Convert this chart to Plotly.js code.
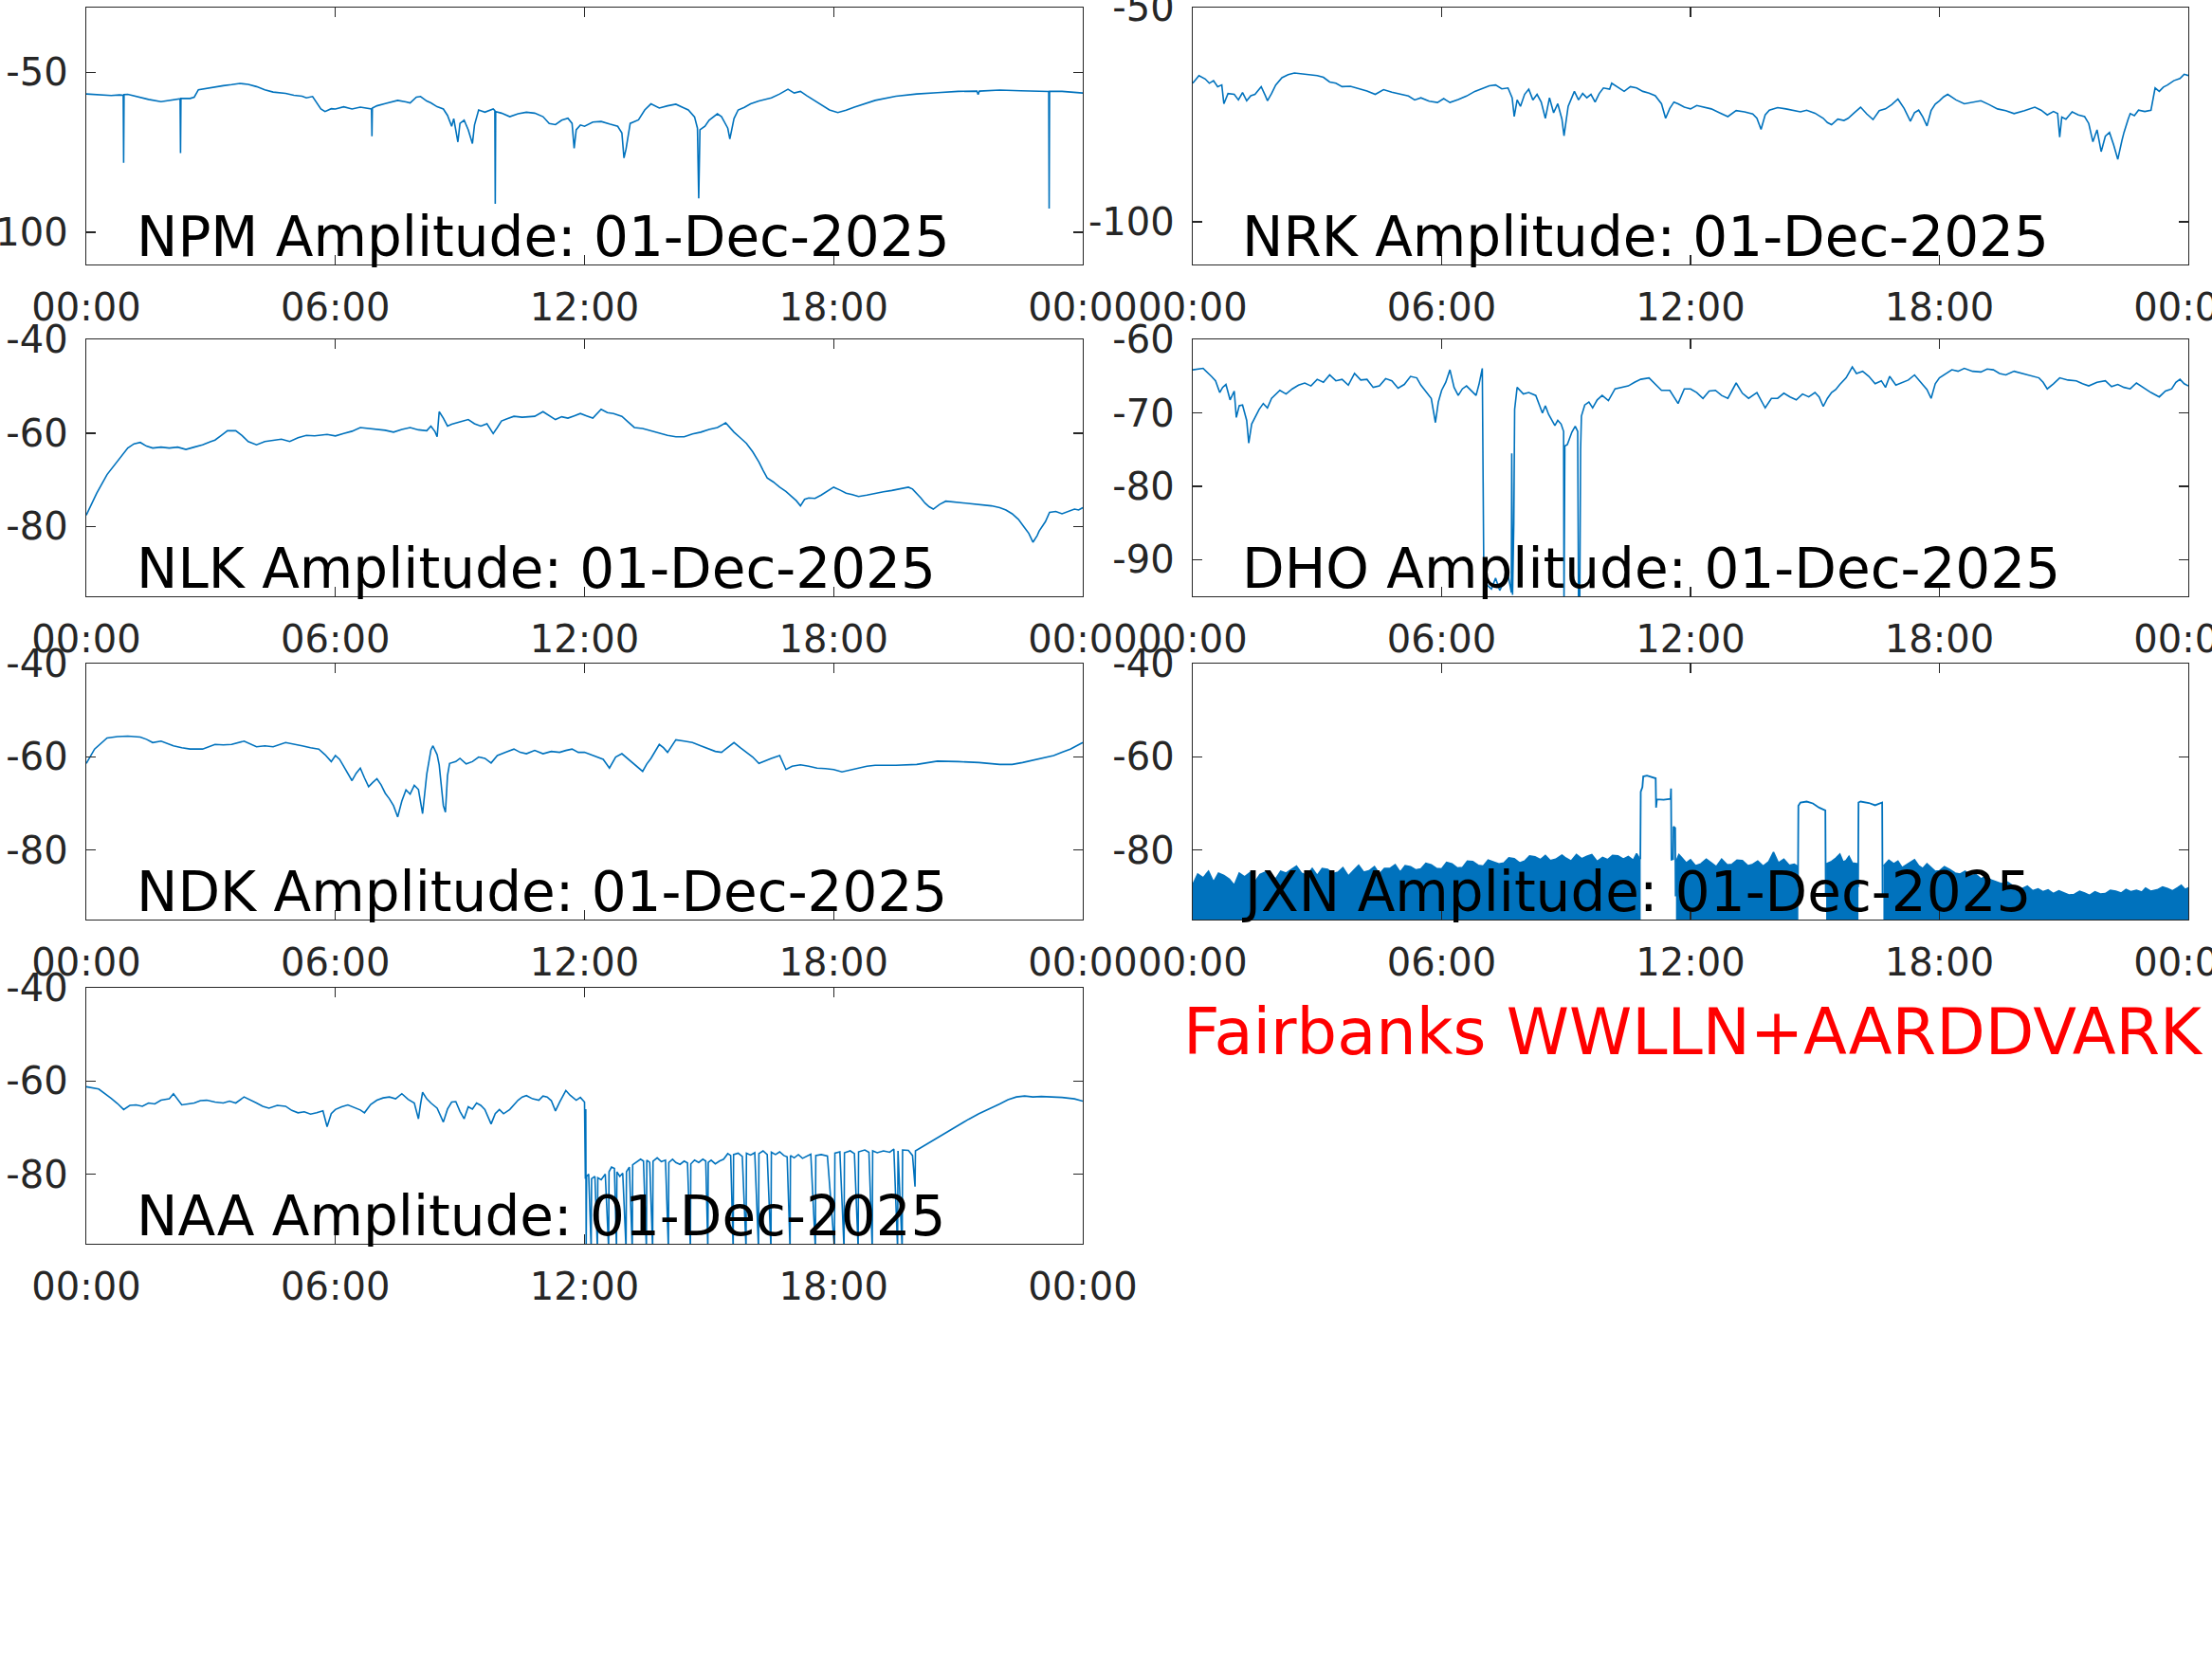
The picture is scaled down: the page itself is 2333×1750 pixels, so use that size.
<!DOCTYPE html>
<html>
<head>
<meta charset="utf-8">
<script src="https://cdn.plot.ly/plotly-3.0.1.min.js"></script>
<style>html,body{margin:0;padding:0;background:#fff;}#chart{width:2333px;height:1750px;}</style>
</head>
<body>
<div id="chart"></div>
<script>
// ---------- DATA (hours since 00:00 UT, amplitude dB) ----------
const tickHours = [0, 6, 12, 18, 24];
const tickText = ['00:00', '06:00', '12:00', '18:00', '00:00'];
const dateLabel = '01-Dec-2025';
const footerText = 'Fairbanks WWLLN+AARDDVARK';

const npm = [[0,-56.8],[0.3,-57.0],[0.6,-57.3],[0.8,-57.1],[0.89,-57.2],[0.9,-78.3],[0.91,-57.0],[1.0,-56.9],[1.2,-57.6],[1.5,-58.5],[1.8,-59.2],[2.0,-58.8],[2.2,-58.3],[2.26,-58.3],[2.27,-75.3],[2.28,-58.2],[2.5,-58.2],[2.6,-57.8],[2.7,-55.5],[3.0,-54.8],[3.3,-54.2],[3.5,-53.9],[3.7,-53.5],[3.9,-53.8],[4.1,-54.5],[4.3,-55.5],[4.5,-56.2],[4.8,-56.6],[5.0,-57.2],[5.2,-57.5],[5.3,-58.0],[5.45,-57.6],[5.55,-59.5],[5.65,-61.5],[5.75,-62.3],[5.9,-61.4],[6.0,-61.5],[6.2,-60.8],[6.4,-61.5],[6.6,-60.9],[6.87,-61.5],[6.88,-70.0],[6.89,-61.2],[7.0,-60.5],[7.2,-59.8],[7.5,-58.8],[7.7,-59.3],[7.8,-59.6],[7.95,-57.8],[8.05,-57.6],[8.2,-59.0],[8.3,-59.6],[8.45,-60.8],[8.6,-61.5],[8.7,-63.5],[8.8,-66.9],[8.85,-64.5],[8.95,-71.8],[9.0,-66.0],[9.1,-65.0],[9.2,-68.0],[9.3,-72.3],[9.35,-66.5],[9.45,-61.8],[9.6,-62.5],[9.8,-61.5],[9.84,-62.0],[9.85,-91.1],[9.86,-62.3],[10.0,-62.8],[10.2,-63.9],[10.4,-63.0],[10.6,-62.5],[10.8,-62.8],[11.0,-63.9],[11.15,-66.0],[11.3,-66.4],[11.45,-65.0],[11.6,-64.4],[11.7,-66.0],[11.75,-73.8],[11.8,-68.0],[11.9,-66.5],[12.0,-66.9],[12.2,-65.6],[12.4,-65.4],[12.6,-66.2],[12.8,-66.9],[12.9,-69.0],[12.95,-76.8],[13.0,-74.0],[13.1,-66.0],[13.3,-64.9],[13.45,-61.8],[13.6,-59.9],[13.8,-61.2],[14.0,-60.5],[14.2,-60.0],[14.4,-61.2],[14.5,-61.8],[14.65,-64.0],[14.72,-67.5],[14.75,-89.4],[14.78,-68.0],[14.9,-66.9],[15.0,-65.0],[15.2,-63.0],[15.3,-63.9],[15.45,-67.5],[15.5,-70.9],[15.6,-64.5],[15.7,-61.8],[15.85,-61.0],[16.0,-59.9],[16.2,-59.0],[16.5,-58.0],[16.7,-56.8],[16.9,-55.3],[17.05,-56.5],[17.2,-56.0],[17.35,-57.3],[17.5,-58.5],[17.7,-60.2],[17.9,-61.8],[18.1,-62.6],[18.3,-61.9],[18.5,-60.9],[18.75,-59.8],[19.0,-58.8],[19.5,-57.5],[20.0,-56.8],[20.5,-56.4],[21.0,-56.0],[21.45,-55.9],[21.48,-57.0],[21.51,-55.9],[22.0,-55.6],[22.5,-55.8],[23.0,-56.0],[23.18,-56.0],[23.19,-92.6],[23.2,-56.0],[23.5,-56.0],[24.0,-56.5]];

const nrk = [[0,-67.6],[0.15,-65.8],[0.3,-66.6],[0.4,-67.6],[0.5,-67.0],[0.6,-68.4],[0.7,-68.0],[0.75,-72.4],[0.85,-70.0],[1.0,-70.2],[1.1,-71.5],[1.2,-69.8],[1.3,-71.7],[1.4,-70.5],[1.5,-70.2],[1.65,-68.4],[1.75,-70.5],[1.8,-71.7],[1.9,-70.0],[2.0,-68.0],[2.15,-66.3],[2.3,-65.6],[2.45,-65.2],[2.6,-65.4],[2.8,-65.7],[3.0,-65.8],[3.15,-66.2],[3.3,-67.3],[3.45,-67.6],[3.6,-68.4],[3.8,-68.3],[4.0,-68.9],[4.2,-69.4],[4.4,-70.2],[4.6,-69.1],[4.8,-69.7],[5.0,-70.2],[5.2,-70.6],[5.35,-71.5],[5.5,-71.0],[5.7,-71.8],[5.9,-72.1],[6.05,-71.2],[6.2,-72.1],[6.4,-71.4],[6.6,-70.6],[6.8,-69.5],[7.0,-68.7],[7.15,-68.2],[7.3,-68.0],[7.45,-68.9],[7.6,-68.7],[7.7,-71.0],[7.75,-75.4],[7.82,-71.5],[7.9,-73.0],[8.0,-70.2],[8.1,-69.0],[8.2,-71.5],[8.3,-70.2],[8.4,-72.0],[8.5,-75.8],[8.6,-71.0],[8.7,-74.5],[8.8,-72.4],[8.9,-76.0],[8.95,-79.9],[9.05,-73.0],[9.2,-69.5],[9.3,-71.5],[9.4,-70.0],[9.5,-71.0],[9.6,-70.2],[9.7,-72.0],[9.8,-70.0],[9.9,-68.7],[10.05,-69.0],[10.1,-67.6],[10.25,-68.5],[10.4,-69.5],[10.55,-68.4],[10.7,-68.7],[10.85,-69.5],[11.0,-69.9],[11.15,-70.5],[11.3,-72.4],[11.4,-75.8],[11.5,-73.5],[11.6,-72.0],[11.7,-72.4],[11.85,-73.2],[12.0,-73.6],[12.15,-72.8],[12.3,-73.2],[12.5,-73.6],[12.7,-74.5],[12.9,-75.4],[13.1,-74.0],[13.3,-74.3],[13.5,-74.8],[13.6,-75.8],[13.7,-78.4],[13.8,-75.0],[13.9,-73.9],[14.1,-73.3],[14.3,-73.6],[14.5,-74.0],[14.65,-74.3],[14.8,-73.9],[15.0,-74.6],[15.2,-75.8],[15.3,-76.8],[15.4,-77.3],[15.55,-76.0],[15.7,-76.3],[15.8,-75.8],[15.95,-74.5],[16.1,-73.2],[16.25,-74.8],[16.4,-76.1],[16.55,-74.0],[16.7,-73.6],[16.85,-72.6],[17.0,-71.3],[17.15,-73.5],[17.3,-76.5],[17.4,-74.5],[17.5,-73.9],[17.6,-75.5],[17.7,-77.6],[17.8,-74.0],[17.9,-72.5],[18.0,-71.7],[18.1,-70.8],[18.2,-70.2],[18.4,-71.5],[18.6,-72.4],[18.8,-72.0],[19.0,-71.7],[19.2,-72.6],[19.4,-73.6],[19.6,-74.0],[19.8,-74.7],[20.05,-74.0],[20.3,-73.2],[20.45,-73.9],[20.6,-75.0],[20.75,-74.2],[20.85,-74.7],[20.9,-80.2],[20.95,-75.5],[21.05,-76.0],[21.2,-74.3],[21.35,-75.0],[21.5,-75.4],[21.6,-77.0],[21.7,-81.3],[21.8,-78.5],[21.9,-83.6],[22.0,-80.0],[22.1,-79.1],[22.2,-82.0],[22.3,-85.4],[22.4,-81.0],[22.45,-79.1],[22.55,-76.0],[22.6,-74.7],[22.7,-75.2],[22.8,-73.9],[22.95,-74.2],[23.1,-73.9],[23.2,-68.7],[23.3,-69.5],[23.4,-68.5],[23.5,-68.0],[23.65,-67.0],[23.8,-66.5],[23.9,-65.5],[24.0,-65.8]];

const nlk = [[0,-77.6],[0.25,-72.9],[0.5,-68.9],[0.8,-65.5],[1.0,-63.2],[1.15,-62.3],[1.3,-62.0],[1.45,-62.8],[1.6,-63.2],[1.8,-63.0],[2.0,-63.2],[2.2,-63.0],[2.4,-63.5],[2.6,-63.0],[2.8,-62.5],[3.0,-61.8],[3.1,-61.5],[3.25,-60.5],[3.4,-59.5],[3.6,-59.5],[3.75,-60.5],[3.9,-61.8],[4.1,-62.5],[4.3,-61.8],[4.5,-61.5],[4.7,-61.3],[4.9,-61.8],[5.1,-61.0],[5.3,-60.5],[5.5,-60.6],[5.8,-60.3],[6.0,-60.6],[6.2,-60.1],[6.4,-59.6],[6.6,-58.8],[6.8,-59.0],[7.0,-59.1],[7.2,-59.4],[7.4,-59.8],[7.6,-59.2],[7.8,-58.8],[8.0,-59.3],[8.2,-59.5],[8.3,-58.5],[8.4,-59.7],[8.45,-60.8],[8.5,-55.4],[8.6,-56.8],[8.7,-58.5],[8.8,-58.1],[9.0,-57.6],[9.2,-57.1],[9.35,-58.0],[9.5,-58.5],[9.65,-58.0],[9.8,-60.1],[9.9,-58.8],[10.0,-57.4],[10.15,-56.9],[10.3,-56.4],[10.5,-56.6],[10.8,-56.4],[11.0,-55.4],[11.15,-56.2],[11.3,-57.1],[11.45,-56.5],[11.6,-56.8],[11.75,-56.3],[11.9,-55.8],[12.05,-56.3],[12.2,-56.8],[12.4,-54.9],[12.55,-55.6],[12.7,-55.8],[12.9,-56.4],[13.05,-57.6],[13.2,-58.8],[13.4,-59.0],[13.6,-59.5],[13.8,-60.0],[14.0,-60.5],[14.2,-60.8],[14.4,-60.8],[14.6,-60.2],[14.8,-59.8],[15.0,-59.2],[15.2,-58.8],[15.4,-57.8],[15.5,-58.8],[15.6,-59.8],[15.75,-61.0],[15.9,-62.2],[16.05,-64.0],[16.2,-66.2],[16.3,-68.0],[16.4,-69.6],[16.55,-70.5],[16.7,-71.6],[16.85,-72.5],[17.0,-73.6],[17.1,-74.5],[17.2,-75.6],[17.3,-74.2],[17.4,-73.9],[17.55,-74.0],[17.7,-73.3],[17.85,-72.5],[18.0,-71.6],[18.15,-72.2],[18.3,-72.9],[18.45,-73.2],[18.6,-73.6],[18.8,-73.3],[19.0,-72.9],[19.2,-72.6],[19.4,-72.3],[19.6,-72.0],[19.8,-71.6],[19.9,-72.0],[20.0,-72.9],[20.1,-73.9],[20.2,-75.0],[20.3,-75.8],[20.4,-76.3],[20.55,-75.3],[20.7,-74.6],[20.9,-74.8],[21.05,-75.0],[21.2,-75.0],[21.4,-75.3],[21.6,-75.5],[21.8,-75.6],[22.0,-76.0],[22.15,-76.5],[22.3,-77.3],[22.45,-78.5],[22.6,-80.3],[22.7,-81.5],[22.8,-83.4],[22.9,-82.0],[22.95,-81.0],[23.1,-79.0],[23.2,-77.0],[23.35,-76.8],[23.5,-77.3],[23.65,-76.8],[23.8,-76.3],[23.9,-76.5],[24.0,-76.0]];

const dho = [[0,-64.1],[0.25,-63.9],[0.45,-65.0],[0.55,-65.6],[0.65,-67.2],[0.72,-66.5],[0.8,-66.1],[0.9,-68.2],[1.0,-67.0],[1.05,-70.6],[1.12,-69.0],[1.2,-68.9],[1.3,-71.0],[1.35,-74.1],[1.42,-71.5],[1.5,-70.6],[1.6,-69.5],[1.7,-68.7],[1.8,-69.3],[1.9,-68.0],[2.1,-66.9],[2.25,-67.4],[2.4,-66.7],[2.55,-66.2],[2.7,-65.9],[2.85,-66.3],[3.0,-65.4],[3.15,-65.8],[3.3,-64.8],[3.45,-65.6],[3.6,-65.4],[3.75,-66.2],[3.9,-64.6],[4.05,-65.5],[4.2,-65.4],[4.35,-66.5],[4.5,-66.3],[4.65,-65.3],[4.8,-65.6],[4.95,-66.6],[5.1,-66.1],[5.25,-65.0],[5.4,-65.2],[5.5,-66.2],[5.6,-66.9],[5.75,-68.0],[5.85,-71.3],[5.92,-68.5],[6.0,-66.9],[6.1,-65.8],[6.2,-64.1],[6.3,-66.5],[6.4,-67.6],[6.5,-66.7],[6.6,-66.3],[6.7,-66.9],[6.83,-67.6],[6.9,-66.1],[6.98,-63.9],[7.02,-94.8],[7.06,-90.0],[7.1,-93.5],[7.2,-94.0],[7.3,-92.5],[7.4,-94.2],[7.5,-93.0],[7.6,-92.0],[7.68,-94.5],[7.69,-75.5],[7.71,-94.8],[7.74,-85.0],[7.76,-69.5],[7.82,-66.5],[7.97,-67.4],[8.1,-67.2],[8.27,-67.6],[8.43,-70.0],[8.5,-69.0],[8.58,-70.2],[8.73,-71.7],[8.8,-71.0],[8.88,-71.5],[8.94,-72.5],[8.95,-96],[8.97,-74.5],[9.03,-74.3],[9.14,-72.6],[9.22,-71.8],[9.28,-72.5],[9.3,-96],[9.33,-96],[9.35,-75.0],[9.37,-70.4],[9.45,-68.9],[9.55,-68.5],[9.64,-69.3],[9.75,-68.2],[9.87,-67.6],[10.02,-68.3],[10.18,-66.7],[10.35,-66.5],[10.5,-66.3],[10.65,-65.8],[10.8,-65.4],[11.0,-65.2],[11.15,-66.0],[11.3,-66.9],[11.5,-66.9],[11.7,-68.7],[11.85,-66.7],[12.0,-66.7],[12.15,-67.2],[12.3,-68.0],[12.45,-67.0],[12.6,-66.9],[12.75,-67.6],[12.9,-68.0],[13.1,-65.9],[13.25,-67.3],[13.4,-68.0],[13.6,-67.2],[13.8,-69.3],[13.95,-68.0],[14.1,-68.0],[14.25,-67.3],[14.4,-67.8],[14.55,-68.2],[14.7,-67.4],[14.85,-67.8],[15.0,-67.2],[15.1,-67.8],[15.2,-69.1],[15.3,-68.0],[15.4,-67.2],[15.5,-66.8],[15.6,-66.1],[15.75,-65.2],[15.9,-63.7],[16.0,-64.6],[16.15,-64.3],[16.3,-65.0],[16.45,-66.0],[16.6,-65.6],[16.7,-66.5],[16.8,-65.0],[16.95,-66.2],[17.1,-65.9],[17.25,-65.5],[17.4,-64.8],[17.5,-65.5],[17.6,-66.1],[17.7,-66.8],[17.8,-68.0],[17.9,-66.0],[18.0,-65.2],[18.15,-64.7],[18.3,-64.1],[18.45,-64.3],[18.6,-63.9],[18.8,-64.3],[19.0,-64.4],[19.15,-64.0],[19.3,-64.1],[19.45,-64.6],[19.6,-64.8],[19.8,-64.3],[20.0,-64.6],[20.2,-64.9],[20.4,-65.2],[20.5,-65.8],[20.6,-66.7],[20.75,-66.0],[20.9,-65.2],[21.1,-65.5],[21.3,-65.6],[21.45,-66.0],[21.6,-66.3],[21.8,-65.8],[22.0,-65.6],[22.15,-66.4],[22.3,-66.1],[22.45,-66.5],[22.6,-66.7],[22.75,-65.9],[22.9,-66.5],[23.1,-67.2],[23.3,-67.8],[23.45,-67.0],[23.6,-66.7],[23.7,-65.8],[23.8,-65.4],[23.9,-66.0],[24.0,-66.3]];

const ndk = [[0,-61.4],[0.2,-58.3],[0.5,-55.9],[0.75,-55.6],[1.0,-55.5],[1.3,-55.7],[1.45,-56.2],[1.6,-56.9],[1.8,-56.6],[2.1,-57.6],[2.3,-58.0],[2.5,-58.3],[2.8,-58.3],[3.1,-57.3],[3.3,-57.4],[3.5,-57.3],[3.8,-56.6],[4.1,-57.8],[4.3,-57.6],[4.5,-57.8],[4.8,-56.9],[5.0,-57.2],[5.2,-57.6],[5.4,-58.0],[5.6,-58.3],[5.75,-59.5],[5.9,-61.0],[6.0,-59.7],[6.1,-60.5],[6.2,-62.0],[6.4,-65.1],[6.5,-63.5],[6.6,-62.4],[6.7,-64.5],[6.8,-66.4],[6.9,-65.5],[7.0,-64.7],[7.1,-66.0],[7.2,-67.8],[7.3,-69.0],[7.4,-70.5],[7.5,-72.9],[7.6,-69.5],[7.7,-67.1],[7.8,-68.0],[7.9,-66.1],[8.0,-67.0],[8.1,-72.2],[8.2,-63.7],[8.3,-58.5],[8.35,-57.6],[8.45,-59.5],[8.5,-61.7],[8.6,-70.5],[8.65,-71.9],[8.7,-64.0],[8.75,-61.4],[8.9,-61.0],[9.0,-60.3],[9.15,-61.5],[9.3,-61.0],[9.45,-60.0],[9.6,-60.3],[9.75,-61.3],[9.9,-59.7],[10.1,-59.0],[10.3,-58.3],[10.45,-59.0],[10.6,-59.3],[10.8,-58.6],[11.0,-59.3],[11.2,-58.8],[11.4,-59.0],[11.55,-58.6],[11.7,-58.3],[11.85,-59.0],[12.0,-59.0],[12.15,-59.5],[12.3,-60.0],[12.45,-60.5],[12.6,-62.4],[12.75,-60.0],[12.9,-59.3],[13.05,-60.5],[13.2,-61.7],[13.4,-63.1],[13.5,-61.5],[13.6,-60.3],[13.8,-57.3],[13.9,-58.0],[14.0,-59.0],[14.2,-56.3],[14.4,-56.6],[14.6,-56.9],[14.8,-57.6],[15.0,-58.3],[15.15,-58.8],[15.3,-59.0],[15.45,-58.0],[15.6,-56.9],[15.75,-58.0],[15.9,-59.0],[16.05,-60.0],[16.2,-61.4],[16.35,-60.8],[16.5,-60.3],[16.7,-59.7],[16.85,-62.7],[17.0,-62.0],[17.2,-61.7],[17.4,-62.0],[17.6,-62.4],[17.8,-62.5],[18.0,-62.7],[18.2,-63.2],[18.4,-62.8],[18.6,-62.4],[18.8,-62.0],[19.0,-61.8],[19.5,-61.8],[20.0,-61.6],[20.5,-60.9],[21.0,-61.0],[21.5,-61.2],[22.0,-61.6],[22.3,-61.6],[22.55,-61.2],[22.8,-60.7],[23.05,-60.3],[23.3,-59.7],[23.5,-59.0],[23.7,-58.3],[23.85,-57.6],[24.0,-56.9]];

// JXN: top of the dense noise band (filled down to the axis floor); null separates the band segments
const jxnBand = [[0,-87.5],[0.12,-85.2],[0.25,-86.0],[0.38,-84.6],[0.5,-86.9],[0.62,-85.0],[0.75,-85.5],[0.88,-86.3],[1.0,-87.6],[1.12,-85.0],[1.25,-85.8],[1.38,-84.9],[1.5,-86.9],[1.62,-85.3],[1.75,-84.8],[1.88,-85.9],[2.0,-86.2],[2.12,-84.6],[2.25,-85.0],[2.38,-84.2],[2.5,-83.5],[2.62,-85.0],[2.75,-85.5],[2.88,-84.0],[3.0,-85.5],[3.12,-84.0],[3.25,-84.2],[3.38,-85.1],[3.5,-84.8],[3.62,-83.8],[3.75,-85.6],[3.88,-84.4],[4.0,-83.3],[4.12,-84.8],[4.25,-84.5],[4.38,-83.6],[4.5,-85.2],[4.62,-84.0],[4.75,-84.0],[4.88,-83.2],[5.0,-84.8],[5.12,-83.4],[5.25,-83.6],[5.38,-84.3],[5.5,-84.1],[5.62,-82.9],[5.75,-83.2],[5.88,-84.0],[6.0,-84.1],[6.12,-82.7],[6.25,-83.0],[6.38,-83.9],[6.5,-83.8],[6.62,-82.4],[6.75,-82.5],[6.88,-83.3],[7.0,-83.5],[7.12,-82.2],[7.25,-82.6],[7.38,-83.0],[7.5,-82.8],[7.62,-81.7],[7.75,-81.9],[7.88,-82.8],[8.0,-82.4],[8.12,-81.3],[8.25,-81.5],[8.38,-82.1],[8.5,-81.2],[8.62,-82.3],[8.75,-82.0],[8.9,-81.1],[9.0,-81.8],[9.12,-82.4],[9.25,-81.0],[9.38,-81.9],[9.5,-81.4],[9.62,-81.0],[9.75,-82.5],[9.88,-81.6],[10.0,-82.1],[10.12,-81.2],[10.25,-81.3],[10.38,-82.0],[10.5,-81.4],[10.62,-82.2],[10.7,-80.8],[10.78,-82.0],
  null,
  [11.65,-82.5],[11.72,-81.0],[11.8,-81.8],[11.9,-82.8],[12.0,-82.1],[12.12,-83.4],[12.25,-83.0],[12.38,-82.0],[12.5,-82.8],[12.62,-83.6],[12.75,-82.0],[12.88,-83.2],[13.0,-83.1],[13.12,-82.2],[13.25,-82.3],[13.38,-83.4],[13.5,-83.1],[13.62,-82.4],[13.75,-83.5],[13.88,-82.6],[14.0,-80.5],[14.12,-82.8],[14.25,-82.0],[14.38,-83.3],[14.5,-83.1],[14.58,-83.5],
  null,
  [15.27,-83.0],[15.4,-82.5],[15.5,-81.8],[15.6,-80.9],[15.68,-82.6],[15.75,-82.3],[15.82,-81.4],[15.9,-82.8],[16.03,-83.0],
  null,
  [16.65,-83.5],[16.78,-82.2],[16.9,-83.0],[17.0,-82.4],[17.1,-83.8],[17.25,-83.0],[17.4,-82.1],[17.5,-83.4],[17.6,-84.0],[17.7,-83.0],[17.8,-83.8],[17.9,-84.6],[18.0,-84.5],[18.12,-83.6],[18.25,-84.2],[18.38,-85.0],[18.5,-85.2],[18.62,-84.6],[18.75,-85.6],[18.88,-85.3],[19.0,-86.2],[19.12,-85.7],[19.25,-86.5],[19.38,-86.9],[19.5,-87.3],[19.62,-86.8],[19.75,-87.6],[19.88,-88.1],[20.0,-88.3],[20.12,-87.8],[20.25,-88.8],[20.38,-88.4],[20.5,-89.0],[20.62,-88.6],[20.75,-89.4],[20.88,-88.8],[21.0,-89.2],[21.12,-89.7],[21.25,-89.6],[21.38,-88.9],[21.5,-89.3],[21.62,-89.8],[21.75,-89.0],[21.88,-89.5],[22.0,-89.4],[22.12,-88.7],[22.25,-88.9],[22.38,-89.3],[22.5,-88.5],[22.62,-89.0],[22.75,-88.7],[22.88,-89.1],[22.97,-88.2],[23.1,-88.9],[23.25,-88.6],[23.38,-88.0],[23.5,-88.3],[23.62,-88.8],[23.75,-88.1],[23.83,-87.6],[23.92,-88.5],[24.0,-88.2]];
const jxnBandFloor = -96;
// JXN: clean carrier plateaus rising out of the noise
const jxnPlateaus = [[10.79,-82.0],[10.80,-67.5],[10.84,-66.5],[10.86,-64.2],[10.95,-64.0],[11.05,-64.3],[11.16,-64.6],[11.17,-70.9],[11.19,-69.1],[11.35,-69.2],[11.52,-69.0],[11.53,-66.8],[11.54,-82.1],[11.58,-82.0],[11.59,-75.0],[11.63,-75.3],[11.64,-90.0],
  null,
  [14.59,-88.0],[14.6,-70.5],[14.65,-69.8],[14.8,-69.6],[14.95,-70.0],[15.1,-70.9],[15.2,-71.3],[15.25,-71.5],[15.26,-90.0],
  null,
  [16.04,-88.0],[16.05,-69.8],[16.1,-69.6],[16.3,-69.9],[16.45,-70.4],[16.6,-70.0],[16.62,-69.8],[16.63,-90.0]];

const naa = [[0,-61.2],[0.3,-61.7],[0.6,-63.7],[0.75,-64.8],[0.9,-66.1],[1.05,-65.2],[1.2,-65.1],[1.35,-65.4],[1.5,-64.7],[1.65,-64.9],[1.8,-64.1],[2.0,-63.8],[2.1,-62.7],[2.2,-64.0],[2.3,-65.1],[2.45,-64.9],[2.6,-64.7],[2.75,-64.2],[2.9,-64.1],[3.1,-64.5],[3.3,-64.7],[3.45,-64.3],[3.6,-64.7],[3.8,-63.4],[3.95,-64.0],[4.1,-64.7],[4.25,-65.4],[4.4,-65.8],[4.6,-65.2],[4.8,-65.4],[4.95,-66.3],[5.1,-66.8],[5.25,-66.6],[5.4,-67.1],[5.55,-66.8],[5.7,-66.4],[5.8,-69.8],[5.9,-67.0],[6.0,-66.1],[6.15,-65.5],[6.3,-65.1],[6.45,-65.6],[6.6,-66.2],[6.7,-66.8],[6.85,-65.0],[7.0,-64.1],[7.15,-63.6],[7.3,-63.4],[7.45,-63.8],[7.6,-62.7],[7.75,-63.9],[7.9,-64.7],[8.0,-68.1],[8.05,-65.0],[8.1,-62.4],[8.2,-63.8],[8.3,-64.7],[8.45,-65.8],[8.6,-68.8],[8.7,-66.0],[8.8,-64.5],[8.9,-64.4],[9.0,-66.5],[9.1,-68.1],[9.2,-65.5],[9.3,-66.0],[9.4,-64.7],[9.5,-65.2],[9.6,-66.1],[9.75,-69.2],[9.85,-67.0],[9.95,-66.1],[10.05,-67.0],[10.2,-66.1],[10.3,-65.0],[10.4,-64.1],[10.5,-63.4],[10.6,-63.1],[10.75,-63.8],[10.9,-64.1],[11.0,-63.2],[11.1,-63.4],[11.2,-64.2],[11.3,-66.4],[11.4,-64.5],[11.55,-62.0],[11.65,-63.0],[11.8,-64.1],[11.9,-63.5],[12.0,-64.5],[12.02,-81.0],[12.03,-66.0],[12.04,-96],[12.05,-80.5],[12.1,-80.0],[12.16,-96],[12.17,-81.0],[12.25,-80.5],[12.31,-96],[12.32,-80.8],[12.4,-81.2],[12.5,-80.0],[12.58,-96],[12.59,-79.5],[12.65,-78.5],[12.72,-78.8],[12.77,-96],[12.78,-79.5],[12.85,-80.5],[12.92,-79.8],[13.0,-96],[13.01,-79.5],[13.08,-78.5],[13.15,-96],[13.16,-78.0],[13.25,-77.5],[13.35,-76.8],[13.42,-77.2],[13.49,-96],[13.5,-77.0],[13.57,-77.5],[13.64,-96],[13.65,-77.2],[13.75,-76.5],[13.85,-77.3],[13.95,-77.0],[14.02,-96],[14.03,-77.5],[14.12,-76.8],[14.2,-77.5],[14.3,-77.9],[14.4,-77.2],[14.48,-77.6],[14.55,-96],[14.56,-77.8],[14.65,-77.0],[14.75,-77.5],[14.85,-76.8],[14.92,-77.2],[14.97,-96],[14.98,-77.5],[15.05,-77.0],[15.15,-77.8],[15.25,-77.2],[15.35,-76.8],[15.45,-75.6],[15.52,-76.0],[15.58,-96],[15.59,-75.8],[15.7,-75.5],[15.8,-76.2],[15.89,-96],[15.9,-75.5],[16.0,-75.9],[16.1,-75.4],[16.19,-96],[16.2,-75.6],[16.3,-75.0],[16.4,-75.8],[16.49,-96],[16.5,-75.3],[16.6,-75.8],[16.7,-75.2],[16.8,-76.0],[16.88,-76.3],[16.95,-96],[16.96,-76.0],[17.05,-76.5],[17.15,-75.8],[17.25,-76.6],[17.35,-76.2],[17.45,-75.7],[17.56,-96],[17.57,-76.0],[17.7,-75.8],[17.85,-76.1],[18.02,-96],[18.03,-75.5],[18.15,-75.2],[18.25,-96],[18.26,-75.4],[18.4,-75.0],[18.5,-75.6],[18.59,-96],[18.6,-75.2],[18.75,-74.8],[18.85,-75.3],[18.93,-96],[18.94,-75.0],[19.05,-75.4],[19.2,-75.0],[19.35,-75.3],[19.45,-74.6],[19.54,-96],[19.55,-75.0],[19.65,-96],[19.66,-74.8],[19.8,-74.9],[19.9,-76.0],[19.96,-82.7],[19.97,-75.0],[20.1,-74.3],[20.25,-73.6],[20.5,-72.3],[20.75,-70.8],[21.0,-69.5],[21.25,-68.2],[21.5,-67.0],[21.75,-66.0],[22.0,-64.9],[22.2,-64.0],[22.4,-63.4],[22.6,-63.2],[22.8,-63.4],[23.0,-63.3],[23.25,-63.4],[23.5,-63.5],[23.8,-63.8],[24.0,-64.3]];

const stations = ['NPM', 'NRK', 'NLK', 'DHO', 'NDK', 'JXN', 'NAA'];
const stationSeries = {NPM: npm, NRK: nrk, NLK: nlk, DHO: dho, NDK: ndk, NAA: naa};
const yTicks = {NPM: [-100, -50], NRK: [-100, -50], NLK: [-80, -60, -40], DHO: [-90, -80, -70, -60], NDK: [-80, -60, -40], JXN: [-80, -60, -40], NAA: [-80, -60, -40]};

// ---------- LAYOUT ----------
const W = 2333, H = 1750;
const yRanges = {NPM: [-110.1, -29.8], NRK: [-110, -49.9], NLK: [-95, -39.9], DHO: [-95, -59.95], NDK: [-95, -39.9], JXN: [-95, -39.9], NAA: [-95, -39.9]};
const colPx = [[91, 1142], [1258, 2308]];
const rowPx = [[8, 279], [358, 629], [700, 970], [1042, 1312]];
const BLUE = '#0072BD', AX = '#262626', FONT = 'DejaVu Sans, Liberation Sans, sans-serif';

const layout = {
  width: W, height: H, margin: {l: 0, r: 0, t: 0, b: 0, pad: 0},
  paper_bgcolor: '#fff', plot_bgcolor: '#fff', showlegend: false,
  font: {family: FONT, color: AX}, annotations: []
};
const traces = [];

stations.forEach((st, i) => {
  const col = i % 2, row = Math.floor(i / 2);
  const sfx = i === 0 ? '' : String(i + 1);
  const xa = 'xaxis' + sfx, ya = 'yaxis' + sfx;
  const common = {
    showline: true, mirror: 'ticks', linecolor: AX, linewidth: 1.3,
    ticks: 'inside', ticklen: 10, tickwidth: 1.3, tickcolor: AX,
    showgrid: false, zeroline: false, fixedrange: true,
    ticklabeloverflow: 'allow',
    tickfont: {family: FONT, size: 40, color: AX}
  };
  layout[xa] = Object.assign({}, common, {
    domain: [colPx[col][0] / W, colPx[col][1] / W], range: [0, 24],
    tickmode: 'array', tickvals: tickHours, ticktext: tickText,
    anchor: 'y' + sfx, ticklabelstandoff: 10
  });
  layout[ya] = Object.assign({}, common, {
    domain: [1 - rowPx[row][1] / H, 1 - rowPx[row][0] / H], range: yRanges[st],
    tickmode: 'array', tickvals: yTicks[st], ticktext: yTicks[st].map(String),
    anchor: 'x' + sfx, ticklabelstandoff: 10
  });
  const xref = 'x' + sfx, yref = 'y' + sfx;
  if (st === 'JXN') {
    let seg = [];
    const segs = [];
    jxnBand.forEach(p => { if (p === null) { if (seg.length) segs.push(seg); seg = []; } else seg.push(p); });
    if (seg.length) segs.push(seg);
    segs.forEach(s => {
      const xs = s.map(p => p[0]).concat(s.map(p => p[0]).reverse());
      const ys = s.map(p => p[1]).concat(s.map(() => jxnBandFloor));
      traces.push({x: xs, y: ys, xaxis: xref, yaxis: yref, type: 'scatter', mode: 'lines',
        fill: 'toself', fillcolor: BLUE, line: {color: BLUE, width: 1.6}, hoverinfo: 'skip'});
    });
    traces.push({x: jxnPlateaus.map(p => p ? p[0] : null), y: jxnPlateaus.map(p => p ? p[1] : null),
      xaxis: xref, yaxis: yref, type: 'scatter', mode: 'lines', connectgaps: false,
      line: {color: BLUE, width: 1.8}, hoverinfo: 'skip'});
  } else {
    const d = stationSeries[st];
    traces.push({x: d.map(p => p[0]), y: d.map(p => p[1]), xaxis: xref, yaxis: yref,
      type: 'scatter', mode: 'lines', line: {color: BLUE, width: 1.6}, hoverinfo: 'skip'});
  }
  const labelX = col === 0 ? 142 : 1308;
  const labelY = rowPx[row][1] - 29;
  layout.annotations.push({
    text: st + ' Amplitude: ' + dateLabel, xref: 'paper', yref: 'paper',
    x: labelX / W, y: 1 - labelY / H, xanchor: 'left', yanchor: 'middle',
    showarrow: false, font: {family: FONT, size: 58, color: '#000'}
  });
});

layout.annotations.push({
  text: footerText, xref: 'paper', yref: 'paper', x: 1246 / W, y: 1 - 1089 / H,
  xanchor: 'left', yanchor: 'middle', showarrow: false,
  font: {family: FONT, size: 67, color: '#FF0000'}
});

Plotly.newPlot('chart', traces, layout, {displayModeBar: false, staticPlot: true});
</script>
</body>
</html>
